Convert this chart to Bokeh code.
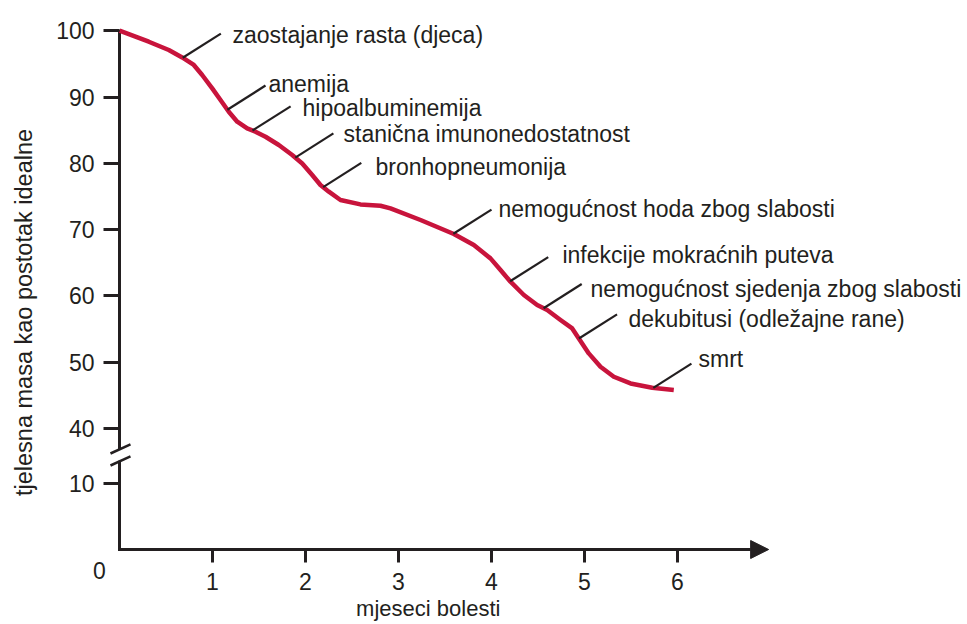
import numpy as np
from bokeh.plotting import figure
from bokeh.models import Range1d, Arrow, NormalHead, FixedTicker
from bokeh.core.properties import value
from bokeh.embed import file_html
from bokeh.resources import INLINE

# ---- data (months of illness, body mass as % of ideal) ----
months = [0, 0.315, 0.530, 0.674, 0.799, 0.889, 0.997, 1.086, 1.175, 1.266, 1.373, 1.462,
          1.570, 1.713, 1.857, 1.965, 2.072, 2.161, 2.251, 2.376, 2.591, 2.806, 2.914,
          3.237, 3.595, 3.810, 3.989, 4.097, 4.204, 4.348, 4.491, 4.599, 4.742, 4.868,
          4.939, 5.046, 5.172, 5.315, 5.495, 5.728, 5.960]
mass = [100, 98.34, 97.09, 95.97, 94.83, 93.32, 91.30, 89.55, 87.78, 86.27, 85.26, 84.77,
        84.01, 82.76, 81.25, 79.98, 78.24, 76.73, 75.72, 74.46, 73.80, 73.60, 73.20,
        71.45, 69.34, 67.68, 65.66, 63.91, 62.14, 60.14, 58.63, 57.87, 56.37, 55.10,
        53.59, 51.33, 49.32, 47.81, 46.80, 46.15, 45.81]

events = ["zaostajanje rasta (djeca)", "anemija", "hipoalbuminemija",
          "stanična imunonedostatnost", "bronhopneumonija",
          "nemogućnost hoda zbog slabosti", "infekcije mokraćnih puteva",
          "nemogućnost sjedenja zbog slabosti", "dekubitusi (odležajne rane)", "smrt"]
event_month = [0.68, 1.16, 1.43, 1.89, 2.19, 3.59, 4.20, 4.56, 4.94, 5.74]
label_x = [1.215, 1.602, 1.968, 2.409, 2.753, 4.075, 4.763, 5.065, 5.473, 6.226]
label_y = [99.40, 92.01, 88.39, 84.46, 79.49, 73.15, 66.21, 61.09, 56.56, 50.52]

x_ticks = [1, 2, 3, 4, 5, 6]
y_tick_values = [10, 40, 50, 60, 70, 80, 90, 100]

# ---- broken y axis: values >= 40 shifted down ----
SHIFT = 21.75
def disp(v):
    v = np.asarray(v, dtype=float)
    return np.where(v >= 30, v - SHIFT, v)

FONT = "Liberation Sans"
INK = "#231f20"
RED = "#c8143c"

W, H = 967, 624
PX_X = 93.0      # pixels per month
PX_Y = 6.63      # pixels per unit
X0, Y0 = 119, 549  # pixel position of origin

p = figure(width=W, height=H, output_backend="svg", toolbar_location=None,
           min_border_left=0, min_border_right=0, min_border_top=0, min_border_bottom=0,
           x_range=Range1d(-X0 / PX_X, (W - X0) / PX_X),
           y_range=Range1d(-(H - Y0) / PX_Y, Y0 / PX_Y))
p.outline_line_color = None
p.grid.visible = False
p.background_fill_color = "white"
p.border_fill_color = "white"

for ax in p.xaxis:
    ax.fixed_location = 0
    ax.ticker = FixedTicker(ticks=x_ticks)
    ax.axis_line_color = None
    ax.major_tick_line_width = 3
    ax.major_tick_line_color = INK
    ax.major_tick_out = 13
    ax.major_tick_in = 0
    ax.minor_tick_line_color = None
    ax.major_label_standoff = 10
    ax.major_label_text_font = FONT
    ax.major_label_text_font_size = "23px"
    ax.major_label_text_color = INK

y_disp_ticks = [float(v) for v in disp(y_tick_values)]
for ax in p.yaxis:
    ax.fixed_location = 0
    ax.ticker = FixedTicker(ticks=y_disp_ticks)
    ax.major_label_overrides = {t: str(v) for t, v in zip(y_disp_ticks, y_tick_values)}
    ax.axis_line_color = None
    ax.major_tick_line_width = 3
    ax.major_tick_line_color = INK
    ax.major_tick_out = 16
    ax.major_tick_in = 0
    ax.minor_tick_line_color = None
    ax.major_label_standoff = 9
    ax.major_label_text_font = FONT
    ax.major_label_text_font_size = "23px"
    ax.major_label_text_color = INK

# y axis line with break
top = float(disp(100)) + 0.15
p.segment(x0=[0, 0], y0=[0, 15.1], x1=[0, 0], y1=[13.4, top], line_width=3, line_color=INK)
p.segment(x0=[-0.097, -0.097], y0=[14.48, 12.67], x1=[0.118, 0.118], y1=[15.84, 14.03],
          line_width=2.5, line_color=INK)

# x axis arrow
p.add_layout(Arrow(x_start=-0.016, y_start=0, x_end=6.98, y_end=0, line_width=3, line_color=INK,
                   end=NormalHead(size=18, fill_color=INK, line_color=INK, line_width=1)))

# curve
p.line(months, disp(mass), line_width=4.5, line_color=RED, line_join="round", line_cap="butt")

# leader lines
ev_y = np.interp(event_month, months, mass)
p.segment(x0=event_month, y0=disp(ev_y), x1=np.array(event_month) + 0.41,
          y1=disp(ev_y + 3.65), line_width=2.2, line_color=INK)

p.text(x=label_x, y=disp(label_y), text=events, text_font=value(FONT), text_font_size="23px",
       text_color=INK, text_align="left", text_baseline="alphabetic")

# origin label, axis titles
p.text(x=[-0.215], y=[-3.2], text=["0"], text_font=value(FONT), text_font_size="23px",
       text_color=INK, text_align="center", text_baseline="middle")
p.text(x=[3.32], y=[-8.9], text=["mjeseci bolesti"], text_font=value(FONT),
       text_font_size="22px", text_color=INK, text_align="center", text_baseline="middle")
p.text(x=[-1.03], y=[35.75], text=["tjelesna masa kao postotak idealne"],
       angle=np.pi / 2, text_font=value(FONT), text_font_size="23.5px", text_color=INK,
       text_align="center", text_baseline="middle")

open("out.html", "w").write(file_html(p, INLINE))
